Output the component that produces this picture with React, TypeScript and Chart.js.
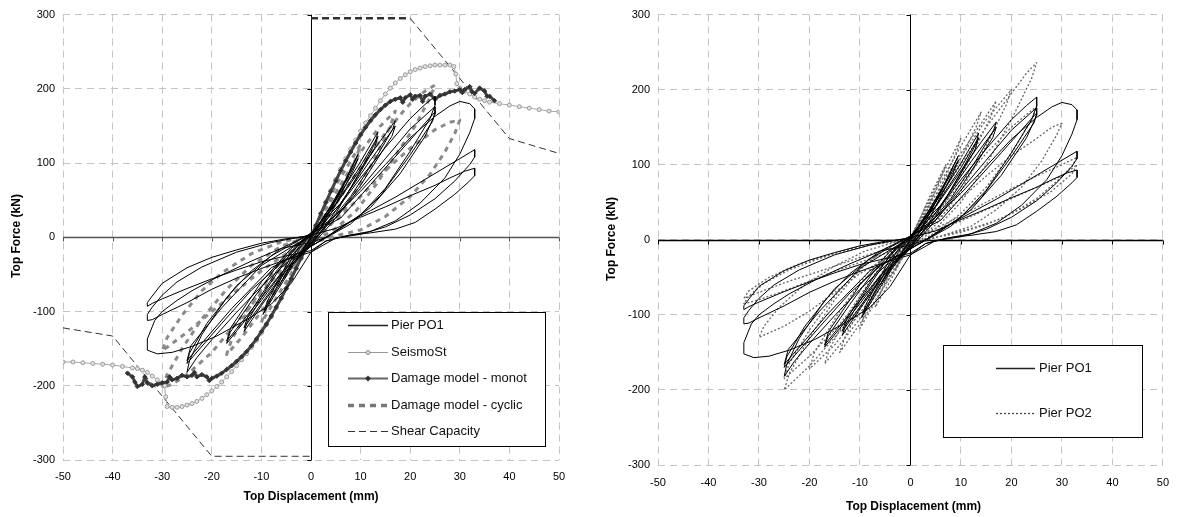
import React, { useEffect, useRef } from 'react';
import { Chart, registerables } from 'chart.js';
Chart.register(...registerables);

type P = [number, number];

const xTickValues = [-50, -40, -30, -20, -10, 0, 10, 20, 30, 40, 50];
const yTickValues = [-300, -200, -100, 0, 100, 200, 300];
const xTitle = 'Top Displacement (mm)';
const yTitle = 'Top Force (kN)';
const legendLeft = ['Pier PO1', 'SeismoSt', 'Damage model - monot', 'Damage model - cyclic', 'Shear Capacity'];
const legendRight = ['Pier PO1', 'Pier PO2'];

const pierPO1: P[] = [
  [0,0],[2,22],[3,33],[2,20],[0,0],[-2,-20],[-3,-31],[-2,-18],[0,0],
  [3,32],[6,65],[5,52],[2,14],[0,-2],[-3,-30],[-6,-60],[-5,-48],[-2,-12],[0,1],
  [4,42],[7,78],[9.5,112],[8.5,98],[5,50],[2,12],[0,-5],[-4,-42],[-7,-74],[-9.7,-104],[-8.7,-90],[-5,-42],[-2,-8],[0,2],
  [4,38],[9.5,106],[8.5,90],[4,32],[0,-8],[-4,-38],[-9.5,-98],[-8.5,-82],[-4,-25],[0,3],
  [5,50],[10,102],[13.5,142],[13,128],[10,90],[5,32],[0,-8],[-5,-45],[-10,-92],[-13.5,-127],[-12.8,-113],[-9,-70],[-4,-20],[0,5],
  [5,45],[10,96],[13.5,136],[12.8,120],[8,66],[3,16],[0,-10],[-6,-52],[-13.5,-122],[-12.7,-106],[-7,-46],[-2,-6],[0,5],
  [5,44],[10,92],[14,130],[17,157],[16.5,146],[13,106],[8,55],[3,14],[0,-10],[-5,-40],[-10,-85],[-14,-118],[-17,-143],[-16.3,-128],[-12,-86],[-7,-40],[-2,-5],[0,5],
  [6,46],[12,104],[17,150],[16.3,136],[10,70],[4,18],[0,-12],[-6,-48],[-12,-98],[-17,-140],[-16.2,-122],[-10,-60],[-4,-15],[0,3],
  [5,36],[10,80],[15,121],[20,160],[23,179],[25,190],[25,178],[24,160],[20,116],[15,66],[10,30],[5,8],[0,-12],[-5,-35],[-10,-66],[-15,-101],[-20,-138],[-23,-162],[-25,-182],[-24.5,-166],[-22,-131],[-17,-81],[-12,-45],[-6,-15],[0,5],
  [5,26],[10,66],[15,106],[20,146],[25,176],[25,166],[23,136],[18,86],[12,40],[6,12],[0,-12],[-6,-35],[-12,-71],[-18,-116],[-25,-170],[-24.5,-156],[-21,-116],[-15,-65],[-8,-25],[0,5],
  [6,26],[12,71],[18,116],[25,169],[24.5,156],[20,111],[14,56],[8,18],[0,-12],[-8,-41],[-16,-96],[-25,-166],[-24.2,-146],[-18,-95],[-10,-38],[0,3],
  [5,30],[10,62],[15,98],[20,134],[25,163],[28,177],[30,183],[32,180],[33,173],[33,160],[32,141],[30,112],[27,80],[22,46],[17,22],[12,8],[7,2],[3,-5],[0,-20],[-4,-62],[-8,-90],[-12,-107],[-16,-122],[-19,-133],[-24,-147],[-28,-155],[-31,-157],[-33,-152],[-33,-137],[-31.5,-112],[-30,-100],[-27,-85],[-24,-72],[-19,-54],[-12,-32],[-6,-15],[0,-7],[3,0],
  [7,18],[12,36],[17,54],[22,74],[26,90],[30,106],[32,114],[33,118],[33,108],[32,98],[29,76],[25,52],[20,30],[15,14],[10,4],[5,-1],[0,-20],[-5,-30],[-10,-42],[-15,-55],[-20,-70],[-25,-88],[-30,-104],[-32,-111],[-33,-112],[-33,-104],[-32,-94],[-30,-78],[-27,-60],[-22,-40],[-15,-20],[-8,-7],[0,3],
  [5,12],[10,27],[15,41],[20,56],[25,70],[28,80],[31,89],[33,93],[33,83],[32,76],[29,58],[25,38],[21,20],[17,11],[12,6],[8,3],[3,-5],[0,-18],[-5,-25],[-10,-33],[-15,-44],[-20,-56],[-25,-69],[-30,-83],[-32,-89],[-33,-93],[-33,-88],[-32,-79],[-30,-62],[-25,-41],[-20,-27],[-15,-17],[-10,-8],[-5,-2],[0,2],
];

const pierPO2: P[] = [
  [0,0],[3,45],[2,28],[0,3],[-3,-40],[-2,-25],[0,0],
  [4,60],[7,100],[6,82],[3,35],[0,-3],[-4,-55],[-7,-90],[-6,-72],[-3,-25],[0,3],
  [5,70],[10,135],[9,115],[5,55],[0,-5],[-5,-60],[-10,-118],[-9,-98],[-5,-42],[0,2],
  [5,65],[10,125],[14,170],[13,150],[9,95],[4,30],[0,-8],[-5,-60],[-10,-112],[-14,-150],[-13,-130],[-9,-80],[-4,-25],[0,3],
  [5,60],[10,115],[14,155],[17,185],[16,165],[12,110],[7,50],[3,12],[0,-10],[-5,-55],[-10,-105],[-14,-140],[-17,-165],[-16,-145],[-12,-95],[-7,-45],[-3,-12],[0,3],
  [5,55],[10,110],[15,160],[20,200],[19,180],[15,125],[10,65],[5,20],[0,-8],[-5,-50],[-10,-98],[-15,-140],[-20,-172],[-19,-150],[-14,-95],[-8,-40],[-3,-10],[0,3],
  [5,50],[10,100],[15,150],[20,195],[23,222],[25,236],[24,215],[20,160],[15,100],[10,50],[5,15],[0,-10],[-5,-45],[-10,-90],[-15,-130],[-20,-168],[-25,-200],[-24,-178],[-20,-130],[-15,-80],[-10,-40],[-5,-12],[0,3],
  [5,35],[10,75],[15,115],[20,150],[25,178],[24,160],[20,115],[15,70],[10,35],[5,10],[0,-10],[-5,-40],[-10,-80],[-15,-120],[-20,-155],[-25,-185],[-24,-165],[-20,-120],[-15,-75],[-10,-38],[-5,-12],[0,3],
  [5,25],[10,55],[15,85],[20,112],[25,135],[28,150],[30,155],[29,140],[26,105],[22,70],[17,40],[12,18],[6,5],[0,-8],[-5,-25],[-10,-45],[-15,-70],[-20,-95],[-25,-115],[-30,-130],[-29,-115],[-26,-90],[-21,-60],[-15,-35],[-9,-15],[-3,-3],[0,2],
  [5,15],[10,32],[15,50],[20,68],[25,85],[30,100],[33,110],[32,98],[29,78],[25,55],[20,35],[15,20],[10,10],[5,3],[0,-8],[-5,-18],[-10,-30],[-15,-42],[-20,-55],[-25,-68],[-30,-80],[-33,-85],[-32,-75],[-29,-58],[-24,-40],[-18,-25],[-12,-12],[-6,-4],[0,2],
  [5,12],[10,25],[15,40],[20,55],[25,70],[30,85],[33,100],[32,88],[28,65],[23,45],[18,28],[12,15],[6,5],[0,-5],[-6,-15],[-12,-28],[-18,-42],[-24,-55],[-30,-70],[-33,-78],[-32,-68],[-28,-50],[-22,-32],[-15,-18],[-8,-7],[0,0],
];

const seismoSt: P[] = [
  [-50,-168],[-48,-168],[-46,-169],[-44,-170],[-42,-171],[-40,-172],[-38,-174],[-36,-176],[-35,-177],[-34,-179],[-33,-182],[-32,-187],[-31,-192],[-30,-197],[-29.5,-200],[-29.3,-215],[-29,-228],
  [-28,-229],[-27,-229],[-26,-228],[-25,-226],[-24,-224],[-23,-221],[-22,-217],[-21,-212],[-20,-207],[-19,-201],[-18,-195],[-17,-188],[-16,-181],[-15,-173],[-14,-165],[-13,-157],[-12,-148],[-11,-139],[-10,-129],[-9,-118],[-8,-107],[-7,-95],[-6,-82],[-5,-69],[-4,-56],[-3,-42],[-2,-28],[-1,-14],
  [0,0],[1,16],[2,32],[3,48],[4,63],[5,78],[6,92],[7,106],[8,119],[9,131],[10,143],[11,154],[12,164],[13,174],[14,184],[15,193],[16,201],[17,208],[18,214],[19,219],[20,223],[21,226],[22,228],[23,230],[24,231],[25,232],[26,232],[27,232],[28,232],[28.8,230],
  [29.2,220],[29.4,207],[30,201],[31,197],[32,193],[33,189],[34,186],[35,184],[36,182],[38,180],[40,178],[42,176],[44,174],[46,172],[48,170],[50,169],
];

const damageMonot: P[] = [
  [-37,-183],[-36,-188],[-35.5,-195],[-35,-201],[-34,-198],[-33.5,-188],[-33,-196],[-32,-200],[-31,-198],[-30,-196],[-29,-195],[-28.5,-188],[-28,-192],[-27,-190],[-26,-186],[-25,-188],[-24,-186],[-23.5,-182],[-23,-188],[-22,-185],[-21,-188],[-20.5,-193],[-20,-190],
  [-19,-187],[-18,-183],[-17,-178],[-16,-173],[-15,-167],[-14,-161],[-13,-154],[-12,-146],[-11,-137],[-10,-127],[-9,-117],[-8,-106],[-7,-94],[-6,-82],[-5,-69],[-4,-56],[-3,-42],[-2,-28],[-1,-14],
  [0,0],[1,16],[2,32],[3,47],[4,62],[5,76],[6,90],[7,103],[8,115],[9,127],[10,138],[11,148],[12,157],[13,165],[14,172],[15,178],[16,183],[17,186],[18,188],
  [18.5,182],[19,188],[20,192],[20.5,186],[21,190],[22,191],[22.5,183],[23,190],[24,193],[25,186],[26,191],[27,193],[28,196],[29,197],[30,199],[30.5,195],[31,199],[32,203],[32.5,196],[33,194],[34,201],[35,197],[35.5,190],[36,190],[37,184],
];

const damageCyclic: P[] = [
  [0,0],[5,70],[10,125],[9,105],[5,45],[0,-5],[-5,-60],[-10,-115],[-9,-95],[-5,-35],[0,5],
  [5,60],[10,115],[14,150],[17,170],[16,150],[12,95],[7,40],[3,10],[0,-8],[-5,-50],[-10,-100],[-14,-135],[-17,-158],[-16,-138],[-12,-90],[-7,-40],[-3,-10],[0,3],
  [5,45],[10,95],[15,140],[18,165],[20,180],[23,197],[25,205],[24,188],[21,150],[17,110],[13,70],[9,35],[5,12],[0,-8],[-5,-35],[-10,-75],[-15,-115],[-20,-155],[-25,-185],[-28,-198],[-30,-203],[-29,-185],[-26,-150],[-22,-110],[-17,-70],[-12,-38],[-6,-12],[0,2],
  [5,22],[10,55],[15,90],[20,120],[25,145],[28,155],[30,158],[29,140],[27,115],[24,85],[20,55],[15,28],[10,10],[5,2],[0,-8],[-5,-22],[-10,-45],[-15,-72],[-20,-100],[-25,-128],[-30,-153],[-29,-135],[-26,-105],[-22,-72],[-18,-48],[-12,-22],[-6,-6],[0,2],
];

const shearCapPos: P[] = [[0,295],[20,295],[40,133],[50,113]];
const shearCapNeg: P[] = [[-50,-122],[-40,-133],[-20,-295],[0,-295]];

const FONT = '"Liberation Sans", Arial, Helvetica, sans-serif';

const toXY = (a: P[]) => a.map(([x, y]) => ({ x, y }));

type Area = { left: number; right: number; top: number; bottom: number };
type LegendItem = { label: string; draw: (ctx: CanvasRenderingContext2D, x1: number, x2: number, y: number) => void };

function line(ctx: CanvasRenderingContext2D, x1: number, x2: number, y: number, color: string, w: number, dash: number[]) {
  ctx.save();
  ctx.strokeStyle = color; ctx.lineWidth = w; ctx.setLineDash(dash);
  ctx.beginPath(); ctx.moveTo(x1, y); ctx.lineTo(x2, y); ctx.stroke();
  ctx.restore();
}

function makeDecor(opts: {
  xTitlePos: [number, number]; yTitlePos: [number, number];
  hZeroColor: string; legendBox: Area; legendRows: number[]; legendLine: [number, number]; textX: number; items: LegendItem[];
}) {
  return {
    id: 'decor',
    beforeDatasetsDraw(chart: any) {
      const { ctx, chartArea, scales } = chart;
      const x0 = Math.round(scales.x.getPixelForValue(0)) + 0.5;
      const y0 = Math.round(scales.y.getPixelForValue(0)) + 0.5;
      ctx.save();
      ctx.lineWidth = 1;
      ctx.strokeStyle = opts.hZeroColor;
      ctx.lineWidth = 1.4;
      ctx.beginPath(); ctx.moveTo(chartArea.left, y0); ctx.lineTo(chartArea.right, y0); ctx.stroke();
      ctx.lineWidth = 1;
      for (const v of xTickValues) {
        const px = Math.round(scales.x.getPixelForValue(v)) + 0.5;
        ctx.beginPath(); ctx.moveTo(px, y0); ctx.lineTo(px, y0 + 4); ctx.stroke();
      }
      ctx.strokeStyle = '#000';
      ctx.beginPath(); ctx.moveTo(x0, chartArea.top); ctx.lineTo(x0, chartArea.bottom); ctx.stroke();
      for (const v of yTickValues) {
        const py = Math.round(scales.y.getPixelForValue(v)) + 0.5;
        ctx.beginPath(); ctx.moveTo(x0 - 4, py); ctx.lineTo(x0, py); ctx.stroke();
      }
      ctx.restore();
    },
    afterDraw(chart: any) {
      const { ctx } = chart;
      ctx.save();
      ctx.fillStyle = '#000';
      ctx.font = `bold 12px ${FONT}`;
      ctx.textAlign = 'center'; ctx.textBaseline = 'middle';
      ctx.fillText(xTitle, opts.xTitlePos[0], opts.xTitlePos[1]);
      ctx.save();
      ctx.translate(opts.yTitlePos[0], opts.yTitlePos[1]);
      ctx.rotate(-Math.PI / 2);
      ctx.fillText(yTitle, 0, 0);
      ctx.restore();
      const b = opts.legendBox;
      ctx.fillStyle = '#fff';
      ctx.fillRect(b.left, b.top, b.right - b.left, b.bottom - b.top);
      ctx.strokeStyle = '#000'; ctx.lineWidth = 1;
      ctx.strokeRect(b.left + 0.5, b.top + 0.5, b.right - b.left, b.bottom - b.top);
      ctx.font = `13px ${FONT}`;
      ctx.textAlign = 'left'; ctx.fillStyle = '#111';
      opts.items.forEach((it, i) => {
        const y = opts.legendRows[i];
        it.draw(ctx, opts.legendLine[0], opts.legendLine[1], y + 0.5);
        ctx.fillStyle = '#111';
        ctx.fillText(it.label, opts.textX, y);
      });
      ctx.restore();
    },
  };
}

function scalesFor(W: number, H: number, area: Area, xPad: number) {
  const grid = { color: '#c4c4c4', lineWidth: 1, drawTicks: false };
  const border = { display: false, dash: [7, 5] };
  const tickFont = { family: FONT, size: 11 };
  return {
    x: {
      type: 'linear', min: -50, max: 50,
      afterBuildTicks: (s: any) => { s.ticks = xTickValues.map((v) => ({ value: v })); },
      afterFit: (s: any) => { s.height = H - area.bottom; },
      grid, border,
      ticks: { font: tickFont, color: '#000', padding: xPad, maxRotation: 0, callback: (v: any) => String(v) },
    },
    y: {
      type: 'linear', min: -300, max: 300,
      afterBuildTicks: (s: any) => { s.ticks = yTickValues.map((v) => ({ value: v })); },
      afterFit: (s: any) => { s.width = area.left; },
      grid, border,
      ticks: { font: tickFont, color: '#000', padding: 8, callback: (v: any) => String(v) },
    },
  };
}

function baseDs(data: P[], extra: any) {
  return { data: toXY(data), showLine: true, pointRadius: 0, pointHoverRadius: 0, tension: 0, borderJoinStyle: 'round', ...extra };
}

function leftConfig(): any {
  const W = 590, H = 517;
  const area = { left: 63, right: 559, top: 12, bottom: 460 };
  const items: LegendItem[] = [
    { label: legendLeft[0], draw: (c, a, b, y) => line(c, a, b, y, '#222', 1.5, []) },
    { label: legendLeft[1], draw: (c, a, b, y) => { line(c, a, b, y, '#999', 1, []); c.save(); c.fillStyle = '#ddd'; c.strokeStyle = '#888'; c.beginPath(); c.arc((a + b) / 2, y, 2, 0, Math.PI * 2); c.fill(); c.stroke(); c.restore(); } },
    { label: legendLeft[2], draw: (c, a, b, y) => { line(c, a, b, y, '#666', 2, []); const m = (a + b) / 2; c.save(); c.fillStyle = '#333'; c.beginPath(); c.moveTo(m, y - 3); c.lineTo(m + 3, y); c.lineTo(m, y + 3); c.lineTo(m - 3, y); c.closePath(); c.fill(); c.restore(); } },
    { label: legendLeft[3], draw: (c, a, b, y) => line(c, a, b, y, '#777', 3.5, [6, 5]) },
    { label: legendLeft[4], draw: (c, a, b, y) => line(c, a, b, y, '#333', 1, [7, 4]) },
  ];
  return {
    type: 'scatter',
    data: {
      datasets: [
        baseDs(pierPO1, { borderColor: '#000', borderWidth: 1 }),
        baseDs(damageMonot, { borderColor: '#444', borderWidth: 3, pointRadius: 2.2, pointStyle: 'rectRot', pointBackgroundColor: '#333', pointBorderColor: '#333', pointBorderWidth: 1 }),
        baseDs(seismoSt, { borderColor: '#a8a8a8', borderWidth: 1, pointRadius: 2, pointStyle: 'circle', pointBackgroundColor: '#e2e2e2', pointBorderColor: '#9a9a9a', pointBorderWidth: 1 }),
        baseDs(damageCyclic, { borderColor: '#8a8a8a', borderWidth: 3, borderDash: [5, 5] }),
        baseDs(shearCapPos, { borderColor: '#333', borderWidth: 1, borderDash: [7, 4], segment: { borderWidth: (ctx: any) => (ctx.p0DataIndex === 0 ? 2.5 : 1) } }),
        baseDs(shearCapNeg, { borderColor: '#333', borderWidth: 1, borderDash: [7, 4] }),
      ],
    },
    options: {
      responsive: false, animation: false, devicePixelRatio: 1,
      layout: { padding: { left: 0, top: area.top, right: W - area.right, bottom: 0 } },
      plugins: { legend: { display: false }, tooltip: { enabled: false } },
      events: [],
      scales: scalesFor(W, H, area, 10),
    },
    plugins: [makeDecor({
      xTitlePos: [311, 497], yTitlePos: [17, 236], hZeroColor: '#555',
      legendBox: { left: 328, right: 545, top: 312, bottom: 446 },
      legendRows: [325, 352, 378, 405, 431], legendLine: [348, 388], textX: 391, items,
    })],
  };
}

function rightConfig(): any {
  const W = 590, H = 517;
  const area = { left: 68, right: 579, top: 13, bottom: 465 };
  const items: LegendItem[] = [
    { label: legendRight[0], draw: (c, a, b, y) => line(c, a, b, y, '#222', 1.3, []) },
    { label: legendRight[1], draw: (c, a, b, y) => line(c, a, b, y, '#444', 1.3, [2, 2]) },
  ];
  return {
    type: 'scatter',
    data: {
      datasets: [
        baseDs(pierPO1, { borderColor: '#000', borderWidth: 1 }),
        baseDs(pierPO2, { borderColor: '#666', borderWidth: 1.3, borderDash: [2, 2] }),
      ],
    },
    options: {
      responsive: false, animation: false, devicePixelRatio: 1,
      layout: { padding: { left: 0, top: area.top, right: W - area.right, bottom: 0 } },
      plugins: { legend: { display: false }, tooltip: { enabled: false } },
      events: [],
      scales: scalesFor(W, H, area, 11),
    },
    plugins: [makeDecor({
      xTitlePos: [323.5, 507], yTitlePos: [22, 239], hZeroColor: '#000',
      legendBox: { left: 353, right: 552, top: 345, bottom: 437 },
      legendRows: [368, 413], legendLine: [406, 445], textX: 449, items,
    })],
  };
}

function Panel({ make, left }: { make: () => any; left: number }) {
  const ref = useRef<HTMLCanvasElement | null>(null);
  useEffect(() => {
    if (!ref.current) return;
    const chart = new Chart(ref.current, make());
    return () => chart.destroy();
  }, [make]);
  return (
    <canvas ref={ref} width={590} height={517}
      style={{ position: 'absolute', left, top: 0, width: 590, height: 517, display: 'block' }} />
  );
}

export default function App() {
  return (
    <div style={{ position: 'absolute', left: 0, top: 0, width: 1180, height: 517, background: '#fff', overflow: 'hidden' }}>
      <Panel make={leftConfig} left={0} />
      <Panel make={rightConfig} left={590} />
    </div>
  );
}
